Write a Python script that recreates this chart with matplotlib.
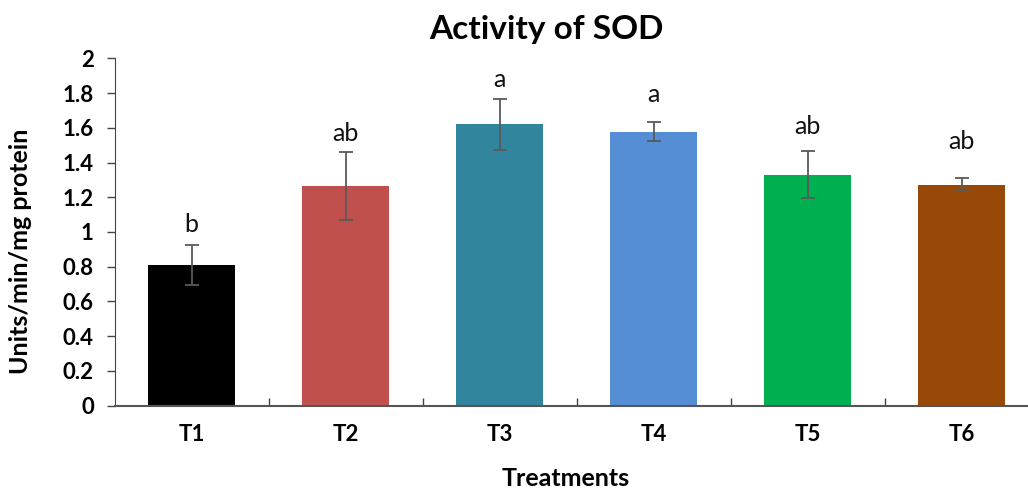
import matplotlib
matplotlib.use('Agg')
import matplotlib.pyplot as plt

####################################################################################################
# DATA
####################################################################################################

treatments = ['T1', 'T2', 'T3', 'T4', 'T5', 'T6']
sod_mean = [0.81, 1.265, 1.62, 1.577, 1.33, 1.272]
sod_err = [0.116, 0.194, 0.148, 0.055, 0.135, 0.037]
letters = ['b', 'ab', 'a', 'a', 'ab', 'ab']
letter_y = [1.00, 1.523, 1.835, 1.749, 1.567, 1.475]
bar_colors = ['#000000', '#C0504D', '#31859C', '#558ED5', '#00B050', '#984807']
y_ticks = [0, 0.2, 0.4, 0.6, 0.8, 1, 1.2, 1.4, 1.6, 1.8, 2]

####################################################################################################
# PLOT
####################################################################################################

plt.rcParams['font.family'] = ['Lato', 'DejaVu Sans']

fig = plt.figure(figsize=(10.28, 4.88), dpi=100)
ax = fig.add_axes([114.7 / 1028, 82.3 / 488, 924 / 1028, 347.4 / 488])

x = list(range(len(treatments)))
ax.bar(x, sod_mean, width=0.567, color=bar_colors, zorder=2)
ax.errorbar(x, sod_mean, yerr=sod_err, fmt='none', ecolor='#595959',
            elinewidth=1.3, capsize=5.3, capthick=1.3, zorder=3)

for xi, lab, ly in zip(x, letters, letter_y):
    ax.text(xi, ly, lab, ha='center', va='baseline', fontsize=18, color='#111111')

ax.set_xlim(-0.5, len(treatments) - 0.5)
ax.set_ylim(0, 2)
ax.set_yticks(y_ticks)
ax.set_yticklabels([f'{v:g}' for v in y_ticks], fontsize=16, fontweight='bold')
ax.set_xticks(x)
ax.set_xticklabels(treatments, fontsize=16, fontweight='bold')
ax.tick_params(axis='x', length=0, pad=13)
ax.tick_params(axis='y', length=6, width=1, color='#444444', pad=9)
# category separators on the x axis
ax.set_xticks([i + 0.5 for i in x[:-1]], minor=True)
ax.tick_params(axis='x', which='minor', direction='in', length=6, width=1, color='#444444')

for side in ['top', 'right']:
    ax.spines[side].set_visible(False)
ax.spines['left'].set_color('#444444')
ax.spines['bottom'].set_color('#555555')
ax.spines['bottom'].set_linewidth(1.5)

ax.set_ylabel('Units/min/mg protein', fontsize=18, fontweight='bold')
ax.yaxis.set_label_coords(-(114.7 - 32) / 924, (406 - 252) / 347.4)
fig.text(566 / 1028, 1 - 478 / 488, 'Treatments', ha='center', va='center',
         fontsize=18, fontweight='bold')
fig.text(546 / 1028, 1 - 30 / 488, 'Activity of SOD', ha='center', va='center',
         fontsize=24, fontweight='bold')

fig.savefig('out.png', dpi=100)
